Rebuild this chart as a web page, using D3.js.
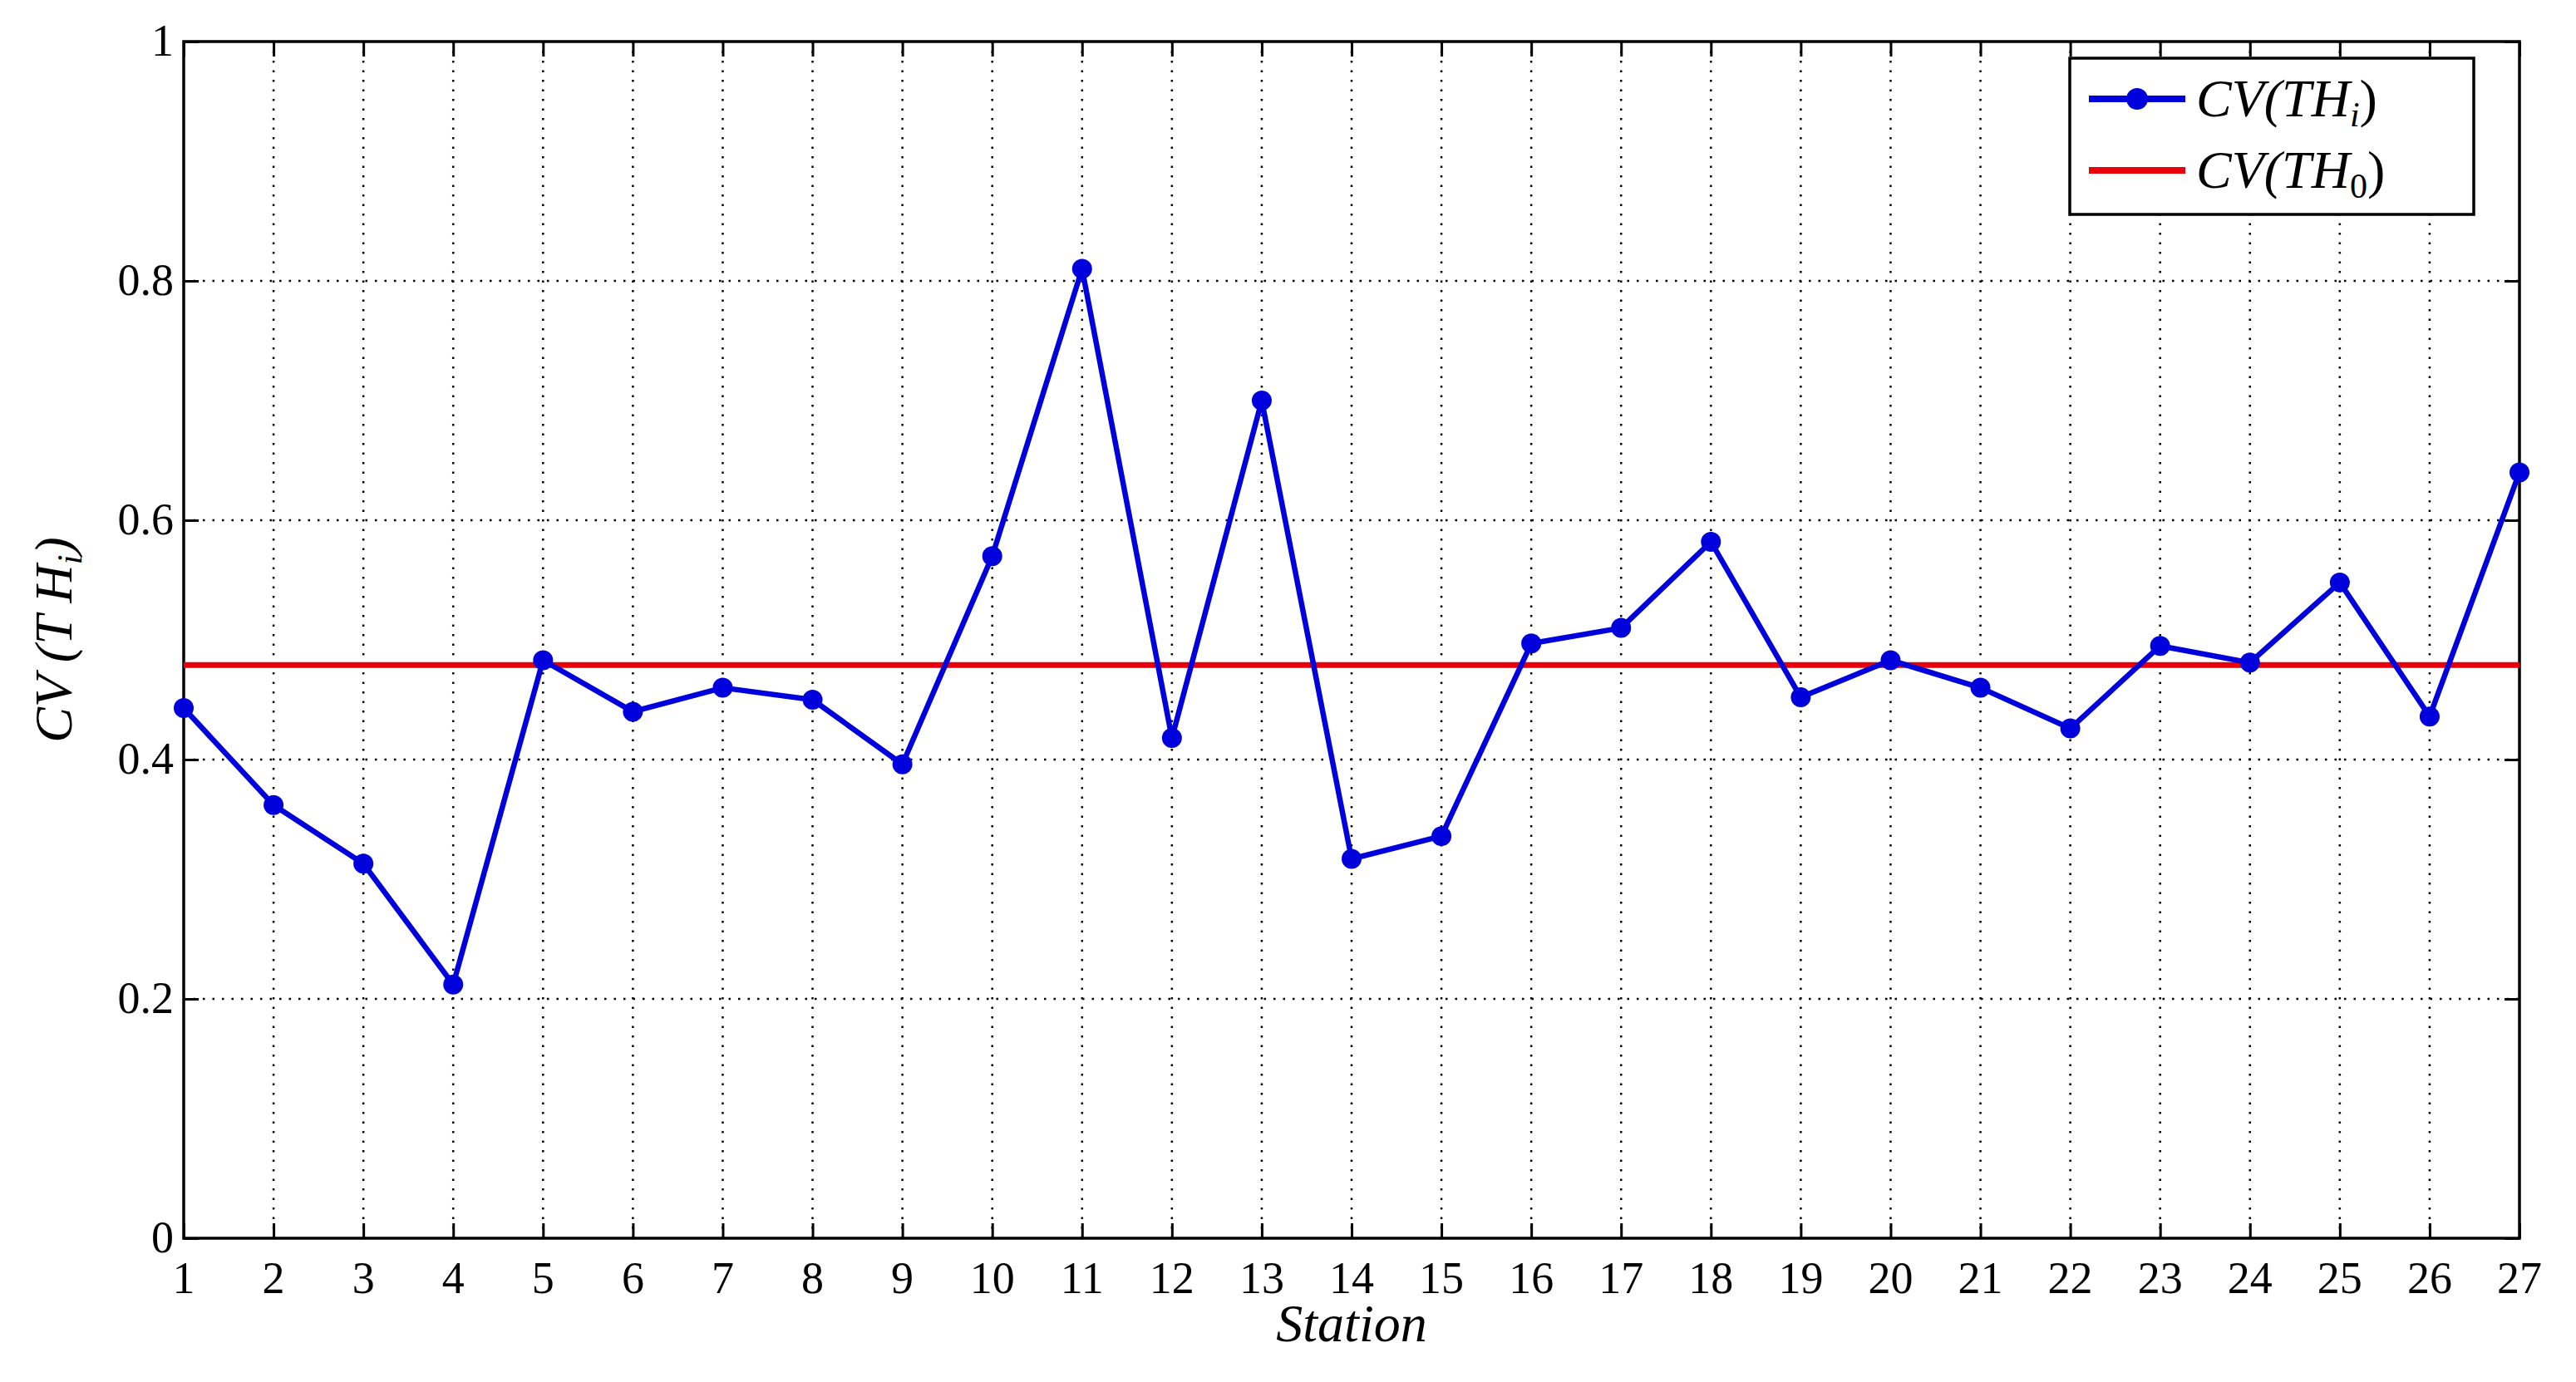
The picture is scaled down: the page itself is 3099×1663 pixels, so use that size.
<!DOCTYPE html>
<html><head><meta charset="utf-8">
<script src="https://cdn.jsdelivr.net/npm/d3@7"></script>
<style>body{margin:0;background:#fff}svg{display:block}</style>
</head><body>
<script>
var stations = d3.range(1, 28);
var cvTHi = [0.443,0.362,0.313,0.212,0.483,0.440,0.460,0.450,0.396,0.570,0.810,0.418,0.700,0.317,0.336,0.497,0.510,0.582,0.452,0.483,0.460,0.426,0.495,0.481,0.548,0.436,0.640];
var cvTH0 = 0.479;
var yTicks = [0, 0.2, 0.4, 0.6, 0.8, 1];

var W = 3099, H = 1663;
var m = {l: 221, r: 3031, t: 50, b: 1490};
var font = "'Liberation Serif','DejaVu Serif',serif";

var svg = d3.select("body").append("svg").attr("width", W).attr("height", H);
var x = d3.scaleLinear().domain([1, 27]).range([m.l, m.r]);
var y = d3.scaleLinear().domain([0, 1]).range([m.b, m.t]);

// grid
var g = svg.append("g").attr("stroke", "#000").attr("stroke-width", 2.5).attr("stroke-dasharray", "2.5,9");
g.selectAll(".vx").data(stations.slice(1, -1)).enter().append("line")
  .attr("x1", d => x(d)).attr("x2", d => x(d)).attr("y1", m.t).attr("y2", m.b);
g.selectAll(".hy").data(yTicks.slice(1, -1)).enter().append("line")
  .attr("y1", d => y(d)).attr("y2", d => y(d)).attr("x1", m.l).attr("x2", m.r);

// axes (ticks inward, mirrored)
var tl = 18;
svg.append("g").attr("transform", "translate(0," + m.b + ")")
  .call(d3.axisTop(x).tickValues(stations).tickSize(tl).tickFormat(""));
svg.append("g").attr("transform", "translate(0," + m.t + ")")
  .call(d3.axisBottom(x).tickValues(stations).tickSize(tl).tickFormat(""));
svg.append("g").attr("transform", "translate(" + m.l + ",0)")
  .call(d3.axisRight(y).tickValues(yTicks).tickSize(tl).tickFormat(""));
svg.append("g").attr("transform", "translate(" + m.r + ",0)")
  .call(d3.axisLeft(y).tickValues(yTicks).tickSize(tl).tickFormat(""));
svg.selectAll(".domain").remove();
svg.selectAll(".tick line").attr("stroke", "#000").attr("stroke-width", 3);
svg.append("rect").attr("x", m.l).attr("y", m.t).attr("width", m.r - m.l).attr("height", m.b - m.t)
  .attr("fill", "none").attr("stroke", "#000").attr("stroke-width", 3.5);

// tick labels
svg.selectAll(".xl").data(stations).enter().append("text")
  .attr("x", d => x(d)).attr("y", m.b + 66).attr("text-anchor", "middle")
  .attr("font-family", font).attr("font-size", 54).text(d => d);
svg.selectAll(".yl").data(yTicks).enter().append("text")
  .attr("x", m.l - 12).attr("y", d => y(d) + 17).attr("text-anchor", "end")
  .attr("font-family", font).attr("font-size", 54).text(d => d3.format("~g")(d));

// axis titles
svg.append("text").attr("x", (m.l + m.r) / 2).attr("y", 1614).attr("text-anchor", "middle")
  .attr("font-family", font).attr("font-style", "italic").attr("font-size", 64).text("Station");
var yt = svg.append("text").attr("transform", "translate(86," + (m.t + m.b) / 2 + ") rotate(-90)")
  .attr("text-anchor", "middle").attr("font-family", font).attr("font-style", "italic").attr("font-size", 64);
yt.append("tspan").text("CV (T H");
yt.append("tspan").attr("font-size", 42).attr("dy", 12).text("i");
yt.append("tspan").attr("dy", -12).text(")");

// red reference line
svg.append("line").attr("x1", m.l).attr("x2", m.r).attr("y1", y(cvTH0)).attr("y2", y(cvTH0))
  .attr("stroke", "#e8000b").attr("stroke-width", 7);

// blue series
var pts = stations.map((s, i) => [s, cvTHi[i]]);
svg.append("path").datum(pts).attr("fill", "none").attr("stroke", "#0000dd").attr("stroke-width", 6.5)
  .attr("stroke-linejoin", "round")
  .attr("d", d3.line().x(d => x(d[0])).y(d => y(d[1])));
svg.selectAll(".pt").data(pts).enter().append("circle")
  .attr("cx", d => x(d[0])).attr("cy", d => y(d[1])).attr("r", 12).attr("fill", "#0000dd");

// legend
var lg = svg.append("g");
lg.append("rect").attr("x", 2490).attr("y", 70).attr("width", 486).attr("height", 188)
  .attr("fill", "#fff").attr("stroke", "#000").attr("stroke-width", 3.5);
var items = [{c: "#0000dd", sub: "i", marker: true, yy: 119}, {c: "#e8000b", sub: "0", marker: false, yy: 205}];
items.forEach(function (it) {
  lg.append("line").attr("x1", 2513).attr("x2", 2629).attr("y1", it.yy).attr("y2", it.yy)
    .attr("stroke", it.c).attr("stroke-width", 8);
  if (it.marker) lg.append("circle").attr("cx", 2571).attr("cy", it.yy).attr("r", 13).attr("fill", it.c);
  var t = lg.append("text").attr("x", 2642).attr("y", it.yy + 21).attr("font-family", font)
    .attr("font-style", "italic").attr("font-size", 64);
  t.append("tspan").text("CV(TH");
  t.append("tspan").attr("font-size", 42).attr("dy", 12).attr("font-style", it.sub === "0" ? "normal" : "italic").text(it.sub);
  t.append("tspan").attr("dy", -12).attr("font-style", "normal").text(")");
});
</script>
</body></html>
